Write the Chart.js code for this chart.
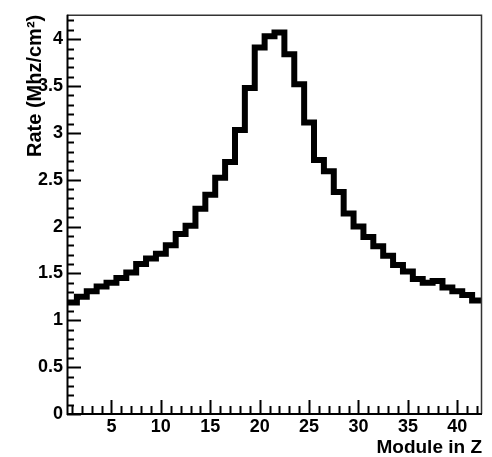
<!DOCTYPE html>
<html>
<head>
<meta charset="utf-8">
<script src="https://cdn.jsdelivr.net/npm/chart.js@4"></script>
<style>
    html, body { margin: 0; padding: 0; background: #fff; }
    #wrap { width: 492px; height: 457px; }
</style>
</head>
<body>
<div id="wrap"><canvas id="rateChart" width="492" height="457"></canvas></div>
<script>
// Hit rate per module along Z
const modules = [1, 2, 3, 4, 5, 6, 7, 8, 9, 10, 11, 12, 13, 14, 15, 16, 17, 18, 19, 20, 21,
                 22, 23, 24, 25, 26, 27, 28, 29, 30, 31, 32, 33, 34, 35, 36, 37, 38, 39, 40, 41, 42];
const rates = [1.19, 1.25, 1.31, 1.36, 1.40, 1.45, 1.51, 1.60, 1.66, 1.71,
               1.80, 1.92, 2.01, 2.19, 2.34, 2.52, 2.69, 3.03, 3.48, 3.91,
               4.03, 4.07, 3.84, 3.52, 3.11, 2.71, 2.59, 2.37, 2.14, 2.00,
               1.89, 1.79, 1.69, 1.59, 1.52, 1.44, 1.40, 1.42, 1.35, 1.31,
               1.27, 1.21];

// Axis labels
const xTicks = [5, 10, 15, 20, 25, 30, 35, 40];
const yTicks = [0, 0.5, 1, 1.5, 2, 2.5, 3, 3.5, 4];
const xRange = [0.5, 42.5];
const yRange = [0, 4.26];

// Histogram outline: each bin runs from module-0.5 to module+0.5
const outline = modules.map((m, i) => ({ x: m - 0.5, y: rates[i] }));
outline.push({ x: modules[modules.length - 1] + 0.5, y: rates[rates.length - 1] });

const FONT = 'Liberation Sans, Arial, Helvetica, sans-serif';

// Frame with inward ticks, drawn over the data
const frameTicks = {
    id: 'frameTicks',
    afterDatasetsDraw(chart) {
        const { ctx, chartArea: a, scales: { x, y } } = chart;
        ctx.save();

        // top and right edges
        ctx.strokeStyle = '#333';
        ctx.lineWidth = 1.5;
        ctx.beginPath();
        ctx.moveTo(a.left, a.top + 0.5);
        ctx.lineTo(a.right - 0.5, a.top + 0.5);
        ctx.lineTo(a.right - 0.5, a.bottom);
        ctx.stroke();

        ctx.strokeStyle = '#000';
        ctx.lineWidth = 2;

        // y ticks every 0.1, longer every 0.5
        for (let i = 0; i * 0.1 <= yRange[1]; i++) {
            const py = Math.round(y.getPixelForValue(i * 0.1)) + 0.5;
            const len = i % 5 === 0 ? 14 : 7;
            ctx.beginPath();
            ctx.moveTo(a.left, py);
            ctx.lineTo(a.left + len, py);
            ctx.stroke();
        }

        // x ticks every module, longer every 5
        for (let v = 1; v <= xRange[1]; v++) {
            const px = Math.round(x.getPixelForValue(v)) + 0.5;
            const len = v % 5 === 0 ? 14 : 8;
            ctx.beginPath();
            ctx.moveTo(px, a.bottom);
            ctx.lineTo(px, a.bottom - len);
            ctx.stroke();
        }

        // left and bottom axis lines
        ctx.beginPath();
        ctx.moveTo(a.left + 0.5, a.top);
        ctx.lineTo(a.left + 0.5, a.bottom);
        ctx.lineTo(a.right, a.bottom);
        ctx.stroke();

        ctx.restore();
    }
};

new Chart(document.getElementById('rateChart'), {
    type: 'line',
    data: {
        datasets: [{
            data: outline,
            stepped: true,
            borderColor: '#000',
            borderWidth: 6,
            borderJoinStyle: 'miter',
            borderCapStyle: 'butt',
            pointRadius: 0,
            fill: false
        }]
    },
    options: {
        responsive: false,
        animation: false,
        events: [],
        layout: { padding: { top: 7, right: 10, left: 0, bottom: 0 } },
        plugins: {
            legend: { display: false },
            tooltip: { enabled: false }
        },
        scales: {
            x: {
                type: 'linear',
                min: xRange[0],
                max: xRange[1],
                border: { display: false },
                grid: { display: false, drawTicks: false },
                afterBuildTicks: s => { s.ticks = xTicks.map(v => ({ value: v })); },
                afterFit: s => { s.height = 43; },
                ticks: {
                    padding: 2,
                    maxRotation: 0,
                    autoSkip: false,
                    color: '#000',
                    font: { family: FONT, size: 18, weight: 'bold' },
                    callback: v => String(v)
                },
                title: {
                    display: true,
                    text: 'Module in Z',
                    align: 'end',
                    color: '#000',
                    font: { family: FONT, size: 19, weight: 'bold', lineHeight: 1 },
                    padding: { top: 0, bottom: 0 }
                }
            },
            y: {
                type: 'linear',
                min: yRange[0],
                max: yRange[1],
                border: { display: false },
                grid: { display: false, drawTicks: false },
                afterBuildTicks: s => { s.ticks = yTicks.map(v => ({ value: v })); },
                afterFit: s => { s.width = 67; },
                ticks: {
                    padding: 4,
                    autoSkip: false,
                    color: '#000',
                    font: { family: FONT, size: 18, weight: 'bold' },
                    callback: v => String(v)
                },
                title: {
                    display: true,
                    text: 'Rate (Mhz/cm²)',
                    align: 'end',
                    color: '#000',
                    font: { family: FONT, size: 20, weight: 'bold', lineHeight: 1 },
                    padding: { top: 25, bottom: 0 }
                }
            }
        }
    },
    plugins: [frameTicks]
});
</script>
</body>
</html>
